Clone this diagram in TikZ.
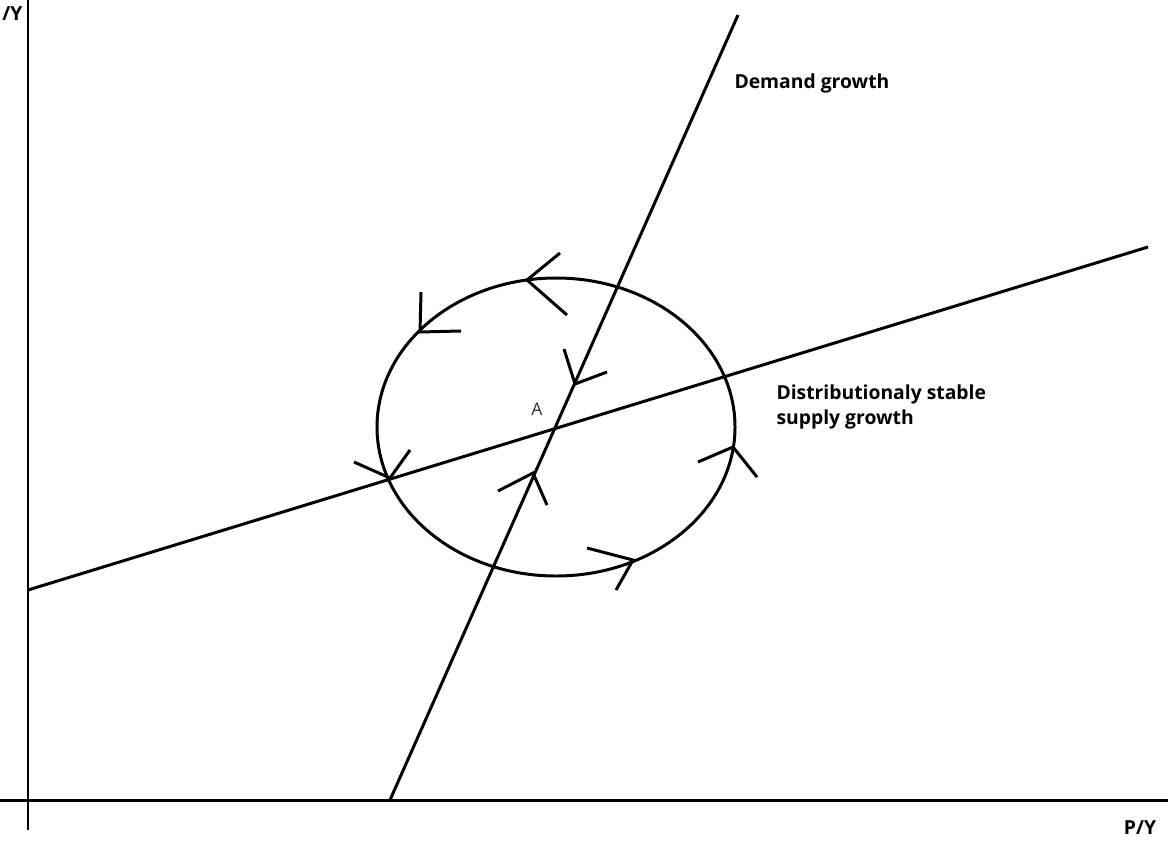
\documentclass[tikz,border=0pt]{standalone}
\usepackage{fontspec}
\setmainfont{Open Sans}
\begin{document}
\begin{tikzpicture}[x=0.02cm,y=-0.02cm,line width=1.7pt,
  lbl/.style={font=\bfseries\fontsize{11}{14}\selectfont,inner sep=0pt},
  chev/.style={line width=1.7pt}]
\useasboundingbox (0,0) rectangle (1168,855);
% axes
\coordinate (yt) at (28,0); \coordinate (yb) at (28,830);
\coordinate (xl) at (0,800); \coordinate (xr) at (1168,800);
\draw (yt) -- (yb);
\draw (xl) -- (xr);
\node[lbl,anchor=west] (ylab) at (1,14) {/Y};
\node[lbl] (xlab) at (1140,828) {P/Y};
% lines
\coordinate (d1) at (390,800); \coordinate (d2) at (738,15);
\coordinate (s1) at (28,590); \coordinate (s2) at (1148,247);
\draw (d1) -- (d2);
\draw (s1) -- (s2);
% ellipse
\draw (556,427) ellipse [x radius=179, y radius=149];
% chevrons
\draw[chev] (560,253) -- (527,280) -- (567,315);
\draw[chev] (421,292) -- (420,332) -- (461,331);
\draw[chev] (564,349) -- (575,384) -- (607,372);
\draw[chev] (354,462) -- (390,478) -- (410,450);
\draw[chev] (498,491) -- (533,473) -- (547,505);
\draw[chev] (698,462) -- (733,447) -- (757,477);
\draw[chev] (587,548) -- (633,560) -- (616,590);
% labels
\node[lbl,anchor=west] (dg) at (733,83) {Demand growth};
\node[lbl,anchor=west,align=left] (sg) at (775,407) {Distributionaly stable\\supply growth};
\node[font=\fontsize{10}{12}\selectfont,text=black!80,inner sep=0pt] (A) at (537,409) {A};
\end{tikzpicture}
\end{document}
